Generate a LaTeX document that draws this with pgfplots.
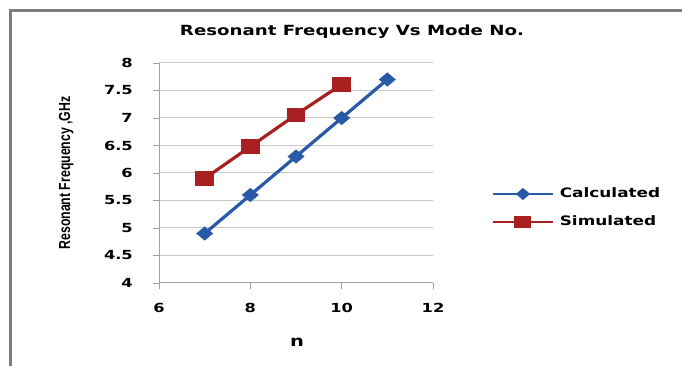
\documentclass[border=0pt]{standalone}
\usepackage{pgfplots}
\pgfplotsset{compat=1.18}
\usepackage{fontspec}
\setmainfont{DejaVu Sans}
\newfontfamily\chartfont{DejaVu Sans}[FakeStretch=1.3]
\newfontfamily\labelfont{Liberation Sans}
\newcommand\cf[1]{\fontsize{#1}{#1}\chartfont\bfseries}

\definecolor{calcblue}{RGB}{40,90,168}
\definecolor{simred}{RGB}{168,32,32}
\definecolor{gridgray}{RGB}{200,200,200}
\definecolor{axisgray}{RGB}{160,160,160}
\definecolor{framegray}{RGB}{125,125,125}

\begin{document}
\begin{tikzpicture}[x=1pt,y=1pt]
\useasboundingbox (0,0) rectangle (682,366);
% chart frame
\draw[framegray, line width=2.2pt] (10.5,0) -- (10.5,355.5) -- (682,355.5);
% chart title
\node[font=\cf{14}] at (352,334) {Resonant Frequency Vs Mode No.};
\begin{axis}[
  at={(159pt,83pt)}, anchor=south west,
  scale only axis, width=274pt, height=220pt,
  xmin=6, xmax=12, ymin=4, ymax=8,
  xtick={6,8,10,12},
  ytick={4,4.5,...,8},
  yticklabels={4,4.5,5,5.5,6,6.5,7,7.5,8},
  axis lines=left,
  axis line style={axisgray, line width=1pt, -},
  tick align=outside,
  major tick length=6pt,
  tick style={axisgray, line width=0.8pt},
  ymajorgrids,
  grid style={gridgray, line width=1pt},
  /pgf/number format/assume math mode=true,
  ticklabel style={font=\cf{12.5}, inner sep=0pt},
  yticklabel style={anchor=east, xshift=-20pt},
  xticklabel style={anchor=north, yshift=-14pt},
  xlabel={n},
  xlabel style={font=\cf{15}, at={(axis description cs:0.504,-0.268)}, anchor=center},
  ylabel={\scalebox{1}[1.3]{\fontsize{12.3}{12.3}\labelfont\bfseries Resonant Frequency ,GHz}},
  ylabel style={at={(axis description cs:-0.339,0.5)}, anchor=center},
  clip=false,
  legend cell align=left,
  legend style={draw=none, fill=none, inner sep=0pt,
    at={(1.2153,0.341)}, anchor=west,
    font=\cf{13}, row sep=15pt, column sep=6pt,
    nodes={inner sep=0pt, text height=10pt, text depth=3pt}},
  legend image code/.code={
    \draw[#1, line width=1.6pt, mark repeat=2, mark phase=2]
      plot coordinates {(0pt,0pt) (30pt,0pt) (60pt,0pt)};
  },
]
\addplot[calcblue, line width=3.2pt, mark=diamond*, mark size=5pt,
  mark options={solid, xscale=1.6}]
  coordinates {(7,4.9) (8,5.6) (9,6.3) (10,7.0) (11,7.7)};
\addlegendentry{Calculated}
\addplot[simred, line width=3.2pt, mark=square*, mark size=5.5pt,
  mark options={solid, xscale=1.4}]
  coordinates {(7,5.9) (8,6.48) (9,7.06) (10,7.61)};
\addlegendentry{Simulated}
\end{axis}
\end{tikzpicture}
\end{document}
